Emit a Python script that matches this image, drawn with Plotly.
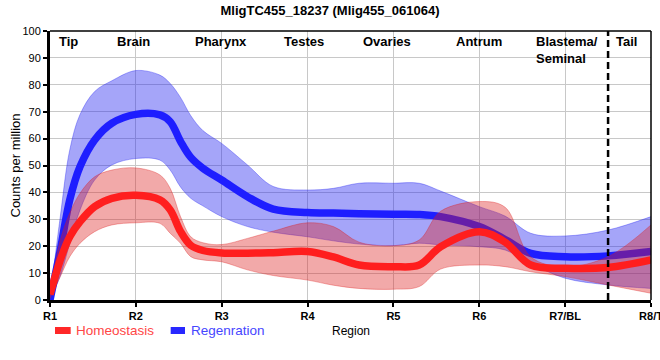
import plotly.graph_objects as go

# Positions along the body (1 = R1 ... 8 = R8/T), with intermediate sample points
positions = [1, 1.12, 1.23, 1.35, 1.52, 1.72, 2, 2.28, 2.4, 2.52, 2.64, 2.78, 3, 3.3, 3.6, 4, 4.3, 4.6, 5,
             5.3, 5.55, 6, 6.3, 6.6, 7, 7.5, 8]

regen_mean  = [0, 18.6, 37.2, 49.6, 59.5, 65.7, 69, 68.8, 66.3, 59, 53, 49, 44.6, 38.4, 33.8, 32.5, 32.3, 32.1, 31.9,
               31.8, 31.0, 27.3, 22.5, 17.3, 16.1, 16.4, 18.0]
regen_upper = [0.5, 31, 55.8, 69, 77.5, 81.5, 85.3, 83.6, 80.5, 75.3, 68.5, 63, 58.2, 50.2, 42.2, 40.9, 41.5, 43.4, 43.4,
               43.4, 40.5, 34.7, 31.2, 24.8, 23.8, 26.0, 31.0]
regen_lower = [0, 9, 21, 33.5, 44.6, 50.2, 52.6, 52, 48.3, 42, 37.8, 35, 31, 27.3, 25.2, 23.5, 22, 20.8, 20.2,
               21.1, 20.5, 19.8, 18.6, 13.6, 8.1, 5.6, 4.3]

homeo_mean  = [2, 14.9, 23.5, 29.1, 34.7, 37.8, 38.9, 37.2, 33.5, 25.5, 20.3, 18.4, 17.5, 17.4, 17.6, 18.0, 16, 13.0, 12.4,
               13.0, 19.8, 25.4, 21.5, 13.0, 11.8, 12.1, 14.9]
homeo_upper = [3, 22.3, 32.3, 39.7, 45.8, 48.3, 49.1, 46.5, 41.5, 31, 23.5, 21.3, 20.6, 22.9, 25.6, 28.7, 27.3, 21.5, 20.2,
               22.3, 33, 36.6, 34.5, 16, 12.4, 16.1, 27.9]
homeo_lower = [0.5, 8.7, 16.1, 21.1, 25.4, 27.9, 28.7, 28.5, 24.8, 21.1, 16.1, 14.9, 14.2, 11.2, 9.1, 7.4, 5.5, 4.3, 4.0,
               5.0, 11.5, 13.0, 12.4, 10.5, 8.7, 5.6, 2.5]

tick_pos = [1, 2, 3, 4, 5, 6, 7, 8]
tick_labels = ["R1", "R2", "R3", "R4", "R5", "R6", "R7/BL", "R8/T"]

region_names = ["Tip", "Brain", "Pharynx", "Testes", "Ovaries", "Antrum", "Tail"]
region_x = [1.22, 1.97, 2.99, 3.96, 4.93, 6.0, 7.71]
blastema_label = "Blastema/<br>Seminal"
blastema_x = 6.64
tail_boundary = 7.5

FONT = "Liberation Sans, Arial, sans-serif"

fig = go.Figure()

def band(xs, lo, hi, fill, edge):
    fig.add_trace(go.Scatter(x=xs, y=lo, mode="lines", line=dict(color=edge, width=1, shape="spline", smoothing=1),
                             showlegend=False, hoverinfo="skip"))
    fig.add_trace(go.Scatter(x=xs, y=hi, mode="lines", line=dict(color=edge, width=1, shape="spline", smoothing=1),
                             fill="tonexty", fillcolor=fill, showlegend=False, hoverinfo="skip"))

band(positions, regen_lower, regen_upper, "rgba(30,30,240,0.4)", "rgba(30,30,240,0.35)")
fig.add_trace(go.Scatter(x=positions, y=regen_mean, mode="lines", name="Regenration",
                         line=dict(color="rgb(30,30,255)", width=7.5, shape="spline", smoothing=1), showlegend=False))
band(positions, homeo_lower, homeo_upper, "rgba(220,30,30,0.38)", "rgba(220,30,30,0.35)")
fig.add_trace(go.Scatter(x=positions, y=homeo_mean, mode="lines", name="Homeostasis",
                         line=dict(color="rgb(255,30,30)", width=7.5, shape="spline", smoothing=1), showlegend=False))

shapes = [
    dict(type="line", x0=tail_boundary, x1=tail_boundary, y0=0, y1=100, xref="x", yref="y",
         line=dict(color="black", width=2.5, dash="7px,4px")),
    dict(type="line", x0=0, x1=1, y0=1, y1=1, xref="paper", yref="paper", line=dict(color="black", width=1.5)),
    dict(type="line", x0=1, x1=1, y0=0, y1=1, xref="paper", yref="paper", line=dict(color="black", width=1.5)),
    # legend swatches
    dict(type="rect", x0=0.0083, x1=0.0344, y0=-0.1004, y1=-0.1264, xref="paper", yref="paper",
         line=dict(width=0), fillcolor="rgb(255,40,40)"),
    dict(type="rect", x0=0.2008, x1=0.2246, y0=-0.1004, y1=-0.1264, xref="paper", yref="paper",
         line=dict(width=0), fillcolor="rgb(40,40,255)"),
]

annotations = []
for name, xv in zip(region_names, region_x):
    annotations.append(dict(text="<b>%s</b>" % name, x=xv, y=0.996, xref="x", yref="paper",
                            xanchor="center", yanchor="top", showarrow=False,
                            font=dict(family=FONT, size=13, color="black")))
annotations.append(dict(text="<b>%s</b>" % blastema_label, x=blastema_x, y=0.996, xref="x", yref="paper",
                        xanchor="left", yanchor="top", align="left", showarrow=False,
                        font=dict(family=FONT, size=13, color="black")))
annotations.append(dict(text="Homeostasis", x=0.04, y=-0.114, xref="paper", yref="paper", xanchor="left",
                        yanchor="middle", showarrow=False, font=dict(family=FONT, size=13.5, color="rgb(255,70,70)")))
annotations.append(dict(text="Regenration", x=0.2313, y=-0.114, xref="paper", yref="paper", xanchor="left",
                        yanchor="middle", showarrow=False, font=dict(family=FONT, size=13.5, color="rgb(70,70,255)")))
annotations.append(dict(text="Region", x=0.5, y=-0.115, xref="paper", yref="paper", xanchor="center",
                        yanchor="middle", showarrow=False, font=dict(family=FONT, size=12, color="black")))
annotations.append(dict(text="Counts per million", x=-35 / 601, y=0.5, xref="paper", yref="paper", showarrow=False,
                        xanchor="center", yanchor="middle",
                        textangle=-90, font=dict(family=FONT, size=13, color="black")))

fig.update_layout(
    width=660, height=360,
    margin=dict(l=50, r=9, t=31, b=60, autoexpand=False),
    paper_bgcolor="white", plot_bgcolor="white",
    title=dict(text="<b>MligTC455_18237 (Mlig455_061064)</b>", x=0.5, xref="container", y=1 - 10 / 360,
               yanchor="middle", font=dict(family=FONT, size=13, color="black")),
    xaxis=dict(range=[1, 8], tickvals=tick_pos, ticktext=tick_labels, showgrid=True, gridcolor="rgb(200,200,200)",
               gridwidth=1, zeroline=False, showline=True, linecolor="black", linewidth=3, automargin=False,
               ticks="outside", ticklen=4, tickwidth=2, tickcolor="black", ticklabeloverflow="allow",
               tickfont=dict(family=FONT, size=11, color="black", weight="bold")),
    yaxis=dict(range=[0, 100], dtick=10, showgrid=True, gridcolor="rgb(200,200,200)", gridwidth=1,
               zeroline=False, showline=True, linecolor="black", linewidth=3, automargin=False,
               ticks="outside", ticklen=4, tickwidth=1.5, tickcolor="black",
               tickfont=dict(family=FONT, size=11, color="black")),
    shapes=shapes, annotations=annotations, showlegend=False,
)

fig.write_html("out.html", config={"displayModeBar": False},
               post_script="document.body.style.margin='0';")
